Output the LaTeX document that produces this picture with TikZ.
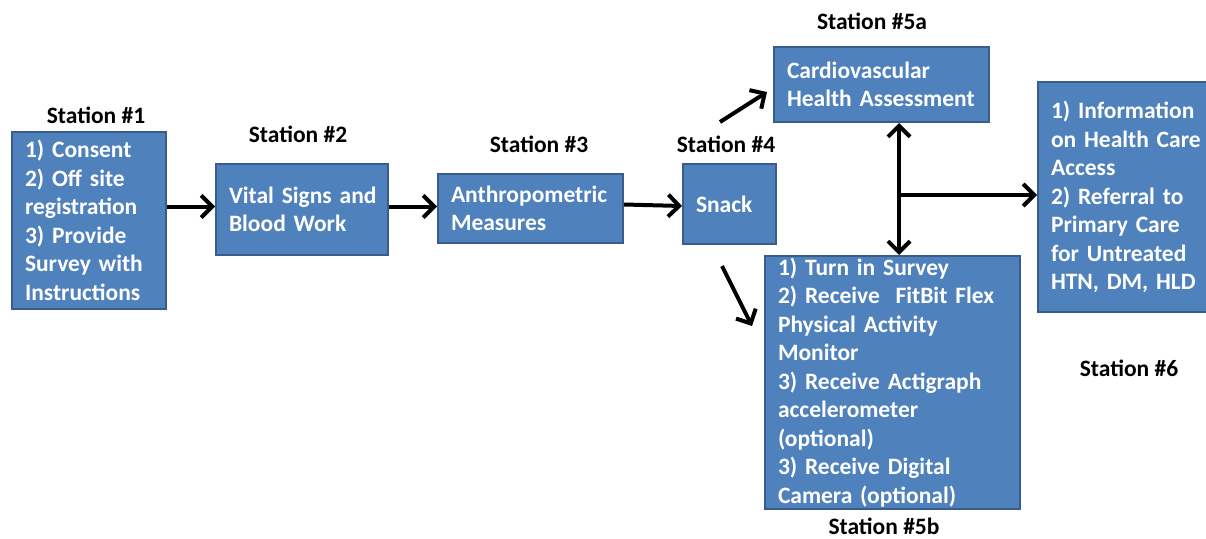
\documentclass[tikz,border=0pt]{standalone}
\usepackage{fontspec}
\setmainfont{Carlito}
\usetikzlibrary{arrows.meta}
\definecolor{boxfill}{HTML}{4F81BD}
\definecolor{boxline}{HTML}{385D8A}
\tikzset{
stationbox/.style={draw=boxline, fill=boxfill, line width=2pt, text=white,
  font=\fontsize{23.5}{28.5}\selectfont\bfseries, align=left, inner xsep=13pt,
  inner ysep=0pt, anchor=center},
stationlabel/.style={font=\fontsize{23.5}{28.5}\selectfont\bfseries, inner sep=0pt},
flow/.style={line width=4pt, -{Straight Barb[length=11pt,width=22pt]}},
flowboth/.style={line width=4pt, {Straight Barb[length=11pt,width=22pt]}-{Straight Barb[length=11pt,width=22pt]}}
}
\begin{document}
\begin{tikzpicture}[x=1pt, y=-1pt]
  \useasboundingbox (0,0) rectangle (1206,538);
\node[stationbox, minimum width=152pt, minimum height=177pt, text width=128pt] (s1) at (89,220.5)
  {1) Consent\\2) Off site\\registration\\3) Provide\\Survey with\\Instructions};
\node[stationbox, minimum width=170pt, minimum height=91pt, text width=146pt] (s2) at (302,209.5)
  {\mbox{Vital Signs and}\\Blood Work};
\node[stationbox, minimum width=183pt, minimum height=69pt, text width=159pt] (s3) at (530.5,208.5)
  {Anthropometric\\Measures};
\node[stationbox, minimum width=91pt, minimum height=80pt, text width=67pt] (s4) at (729.5,204)
  {Snack};
\node[stationbox, minimum width=213pt, minimum height=75pt, text width=189pt] (s5a) at (881.5,84.5)
  {Cardiovascular\\Health Assessment};
\node[stationbox, minimum width=253pt, minimum height=253pt, text width=229pt] (s5b) at (892.5,382.5)
  {1) Turn in Survey\\2) Receive~ FitBit Flex\\Physical Activity\\Monitor\\3) Receive Actigraph\\accelerometer\\(optional)\\3) Receive Digital\\Camera (optional)};
\node[stationbox, minimum width=180pt, minimum height=230pt, text width=156pt] (s6) at (1129,197)
  {1) Information\\on Health Care\\Access\\2) Referral to\\Primary Care\\for Untreated\\HTN, DM, HLD};
% station names
\node[stationlabel] (l1) at (96,115) {Station \#1};
\node[stationlabel] (l2) at (298,134) {Station \#2};
\node[stationlabel] (l3) at (539,144) {Station \#3};
\node[stationlabel] (l4) at (726,144) {Station \#4};
\node[stationlabel] (l5a) at (872,21) {Station \#5a};
\node[stationlabel] (l5b) at (884,526) {Station \#5b};
\node[stationlabel] (l6) at (1129,368) {Station \#6};
% arrows
\coordinate (up1) at (720,122);
\coordinate (up2) at (767,92);
\coordinate (dn1) at (722,266);
\coordinate (dn2) at (752,326);
\coordinate (fork) at (899,195);
\draw[flow] ([yshift=14pt]s1.east) -- ([yshift=14pt]s1.east -| s2.west);
\draw[flow] ([yshift=3pt]s2.east) -- ([yshift=3pt]s2.east -| s3.west);
\draw[flow] ([yshift=4pt]s3.east) -- ([yshift=-2pt]s4.west);
\draw[flow] (up1) -- (up2);
\draw[flow] (dn1) -- (dn2);
\draw[flowboth] (fork |- s5a.south) -- (fork |- s5b.north);
\draw[flow] (fork) -- (fork -| s6.west);
\end{tikzpicture}
\end{document}
